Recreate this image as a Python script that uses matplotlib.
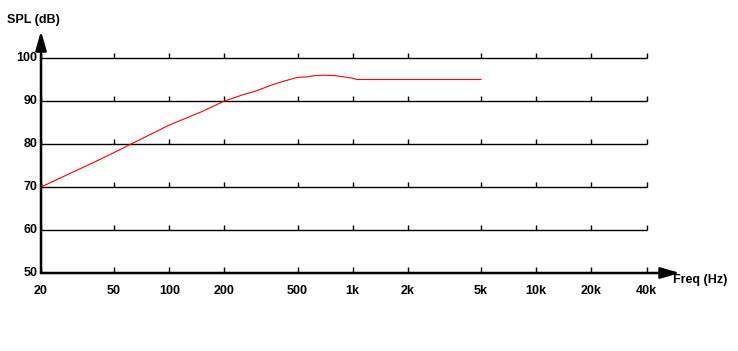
import matplotlib

matplotlib.use("Agg")
import matplotlib.pyplot as plt

# frequency response
FREQ_HZ = [20, 30, 40, 50, 62, 100, 150, 200, 250, 300, 360, 420, 500, 560, 620, 700, 800, 900, 1000, 1050, 2000, 5000]
SPL_DB = [70.0, 73.5, 76.0, 78.0, 80.0, 84.4, 87.5, 90.0, 91.4, 92.4, 93.7, 94.6, 95.5, 95.6, 95.9, 96.0, 95.9, 95.6, 95.3, 95.0, 95.0, 95.0]

X_TICKS = [20, 50, 100, 200, 500, 1000, 2000, 5000, 10000, 20000, 40000]
X_TICK_LABELS = ["20", "50", "100", "200", "500", "1k", "2k", "5k", "10k", "20k", "40k"]
Y_TICKS = [50, 60, 70, 80, 90, 100]

W, H = 738, 351
FONT = {"family": "Liberation Sans", "weight": "bold", "size": 9}


def px(x, y):
    """pixel position (from top-left) -> figure fraction"""
    return x / W, 1 - y / H


fig = plt.figure(figsize=(W / 100, H / 100), dpi=100)
ax = fig.add_axes([41 / W, 78 / H, 605.7 / W, 215 / H])
ax.set_xscale("log")
ax.set_xlim(20, 40000)
ax.set_ylim(50, 100)
for side in ax.spines.values():
    side.set_visible(False)
ax.set_xticks([])
ax.set_yticks([])
ax.minorticks_off()

# gridlines with small upward ticks at each frequency mark
for y in Y_TICKS[1:]:
    ax.plot([20, 40000], [y, y], color="black", lw=1.0, solid_capstyle="butt", clip_on=False)
    ax.plot(X_TICKS, [y] * len(X_TICKS), ls="none", marker=2, ms=3.5, mew=1.0,
            color="black", clip_on=False)

# x axis with arrow
ax.annotate("", xy=(1.055, 0), xytext=(0, 0), xycoords="axes fraction",
            arrowprops=dict(arrowstyle="-|>,head_length=1.15,head_width=0.33",
                            lw=1.8, color="black", mutation_scale=10, shrinkA=0, shrinkB=0))
ax.plot(X_TICKS, [50] * len(X_TICKS), ls="none", marker=2, ms=4, mew=1.0, color="black", clip_on=False)
# y axis with arrow
ax.annotate("", xy=(0, 1.1256), xytext=(0, 0), xycoords="axes fraction",
            arrowprops=dict(arrowstyle="-|>,head_length=1.15,head_width=0.33",
                            lw=1.8, color="black", mutation_scale=10, shrinkA=0, shrinkB=0))

ax.plot(FREQ_HZ, SPL_DB, color="#ff0000", lw=0.8, clip_on=False)

for xv, lab in zip(X_TICKS, X_TICK_LABELS):
    xp = ax.transData.transform((xv, 50))[0]
    fig.text(xp / W, 1 - 291 / H, lab, ha="center", va="center", fontdict=FONT)
for yv in Y_TICKS:
    yp = ax.transData.transform((20, yv))[1]
    fig.text(37.5 / W, yp / H, str(yv), ha="right", va="center", fontdict=FONT)

fig.text(*px(7, 20), "SPL (dB)", ha="left", va="center", fontdict=FONT)
fig.text(*px(673, 280), "Freq (Hz)", ha="left", va="center", fontdict=FONT)

fig.savefig("out.png", dpi=100, facecolor="white")
